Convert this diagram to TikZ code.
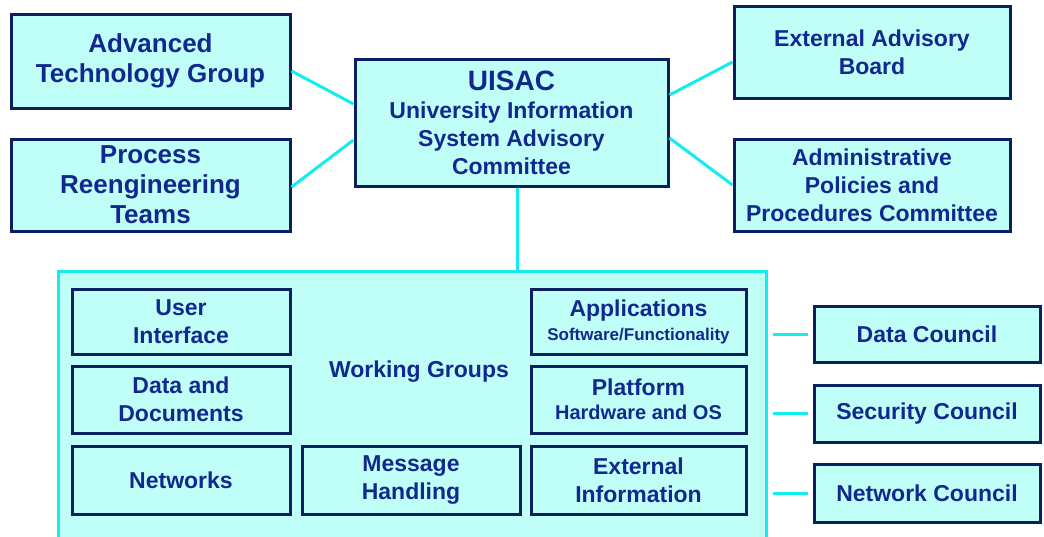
\documentclass[tikz,border=0pt]{standalone}
\usepackage{fontspec}
\setmainfont{Liberation Sans}
\definecolor{boxfill}{HTML}{C0FFF7}
\definecolor{boxline}{HTML}{0C1F5E}
\definecolor{txt}{HTML}{12288F}
\definecolor{cyanline}{HTML}{12EEF0}
\tikzset{
  box/.style={draw=boxline, line width=3pt, fill=boxfill, rectangle, inner sep=0pt,
    align=center, text=txt, font=\bfseries\fontsize{23}{28}\selectfont},
  bigbox/.style={box, font=\bfseries\fontsize{26}{30}\selectfont},
  conn/.style={draw=cyanline, line width=3pt},
  container/.style={draw=cyanline, line width=3pt, fill=boxfill, rectangle, inner sep=0pt}
}
\begin{document}
\begin{tikzpicture}[x=1pt,y=-1pt]
\clip (0,0) rectangle (1044,536);
\useasboundingbox (0,0) rectangle (1044,536);
\fill[white] (0,0) rectangle (1044,536);

% top level boxes
\node[bigbox, minimum width=279, minimum height=94] (atg) at (150.5,61) {Advanced\\Technology Group};
\node[bigbox, minimum width=279, minimum height=92] (prt) at (150.5,185) {Process\\Reengineering\\Teams};
\node[box, minimum width=313, minimum height=127] (uisac) at (511.5,122.5)
  {{\fontsize{28}{30}\selectfont UISAC}\\University Information\\System Advisory\\Committee};
\node[box, minimum width=276, minimum height=92] (eab) at (872,52) {External Advisory\\Board};
\node[box, minimum width=276, minimum height=92] (app) at (872,185) {Administrative\\Policies and\\Procedures Committee};

% working groups container
\node[container, minimum width=708, minimum height=290] (wgc) at (412,416) {};
\node[text=txt, font=\bfseries\fontsize{23}{28}\selectfont] (wgt) at (419,372) {Working Groups};

\node[box, minimum width=218, minimum height=65] (ui) at (181,321.5) {User\\Interface};
\node[box, minimum width=218, minimum height=67] (dd) at (181,399.5) {Data and\\Documents};
\node[box, minimum width=218, minimum height=68] (net) at (181,480) {Networks};
\node[box, minimum width=218, minimum height=68] (msg) at (411,480) {Message\\Handling};
\node[box, minimum width=215, minimum height=65] (apl) at (638.5,321.5)
  {Applications\\[-4pt]{\fontsize{17}{20}\selectfont Software/Functionality}};
\node[box, minimum width=215, minimum height=67] (plt) at (638.5,399.5)
  {Platform\\[-4pt]{\fontsize{20}{24}\selectfont Hardware and OS}};
\node[box, minimum width=215, minimum height=68] (ext) at (638.5,480) {External\\Information};

% councils
\node[box, minimum width=226, minimum height=56] (dc) at (927,334) {Data Council};
\node[box, minimum width=226, minimum height=57] (sc) at (927,413.5) {Security Council};
\node[box, minimum width=226, minimum height=58] (nc) at (927,493) {Network Council};

% connectors
\draw[conn] ([yshift=-10pt]atg.east) -- ([yshift=18.5pt]uisac.west);
\draw[conn] ([yshift=-2pt]prt.east) -- ([yshift=-17.5pt]uisac.west);
\draw[conn] ([yshift=27.5pt]uisac.east) -- ([yshift=-10pt]eab.west);
\draw[conn] ([yshift=-15.5pt]uisac.east) -- (app.west);
\coordinate (ujoin) at ([xshift=6pt]uisac.south);
\draw[conn] (ujoin) -- (ujoin |- wgc.north);
\draw[conn, shorten <=5pt, shorten >=5pt] (dc.west) -- (dc.west -| wgc.east);
\draw[conn, shorten <=5pt, shorten >=5pt] (sc.west) -- (sc.west -| wgc.east);
\draw[conn, shorten <=5pt, shorten >=5pt] (nc.west) -- (nc.west -| wgc.east);
\end{tikzpicture}
\end{document}
